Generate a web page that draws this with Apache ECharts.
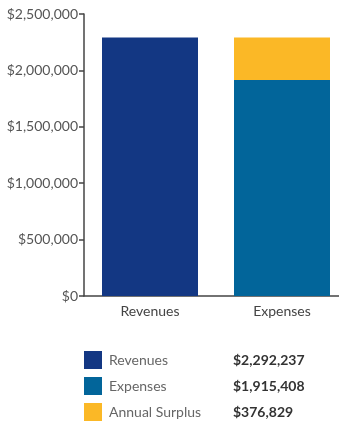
<!DOCTYPE html>
<html>
<head>
<meta charset="utf-8">
<script src="https://cdn.jsdelivr.net/npm/echarts@6/dist/echarts.min.js"></script>
<style>
  html, body { margin: 0; padding: 0; background: #fff; }
  #chart { width: 339px; height: 425px; }
</style>
</head>
<body>
<div id="chart"></div>
<script>
// Budget summary: revenues vs. expenses with the annual surplus stacked on top
const categories = ['Revenues', 'Expenses'];
const revenues = [2292237, '-'];
const expenses = ['-', 1915408];
const surplus = ['-', 376829];
const legendNames = ['Revenues', 'Expenses', 'Annual Surplus'];
const legendValues = [2292237, 1915408, 376829];

const fmtMoney = v => '$' + Number(v).toLocaleString('en-US');
const FONT = 'Lato, "Open Sans", sans-serif';

const chart = echarts.init(document.getElementById('chart'));
chart.setOption({
  animation: false,
  grid: {
    left: 84, top: 14, width: 264, height: 282,
    containLabel: false, outerBoundsMode: 'none'
  },
  xAxis: {
    type: 'category',
    data: categories,
    axisLine: { lineStyle: { color: '#444', width: 1.5 } },
    axisTick: { show: false },
    axisLabel: { color: '#444', fontSize: 14, fontFamily: FONT, margin: 8 }
  },
  yAxis: {
    type: 'value',
    min: 0,
    max: 2500000,
    interval: 500000,
    splitLine: { show: false },
    axisLine: { show: true, lineStyle: { color: '#444', width: 1.5 } },
    axisTick: { show: true, length: 5, lineStyle: { color: '#444', width: 1.5 } },
    axisLabel: { color: '#555', fontSize: 14, fontFamily: FONT, margin: 6, formatter: fmtMoney }
  },
  legend: {
    orient: 'vertical',
    left: 84,
    top: 351,
    padding: 0,
    width: 255,
    height: 74,
    itemWidth: 18,
    itemHeight: 18,
    itemGap: 8,
    icon: 'rect',
    selectedMode: false,
    formatter: name => {
      const v = legendValues[legendNames.indexOf(name)];
      return '{n|' + name + '}{v|' + fmtMoney(v) + '}';
    },
    textStyle: {
      fontFamily: FONT,
      rich: {
        n: { fontFamily: FONT, fontSize: 14, color: '#666', width: 124, lineHeight: 18, padding: [0, 0, 0, 2] },
        v: { fontFamily: FONT, fontSize: 14, color: '#333', fontWeight: 'bold', lineHeight: 18 }
      }
    },
    data: legendNames
  },
  series: [
    {
      name: 'Revenues', type: 'bar', stack: 'total', barWidth: 96,
      itemStyle: { color: '#133783' }, data: revenues
    },
    {
      name: 'Expenses', type: 'bar', stack: 'total', barWidth: 96,
      itemStyle: { color: '#02659a' }, data: expenses
    },
    {
      name: 'Annual Surplus', type: 'bar', stack: 'total', barWidth: 96,
      itemStyle: { color: '#fbb826' }, data: surplus
    }
  ]
});
</script>
</body>
</html>
